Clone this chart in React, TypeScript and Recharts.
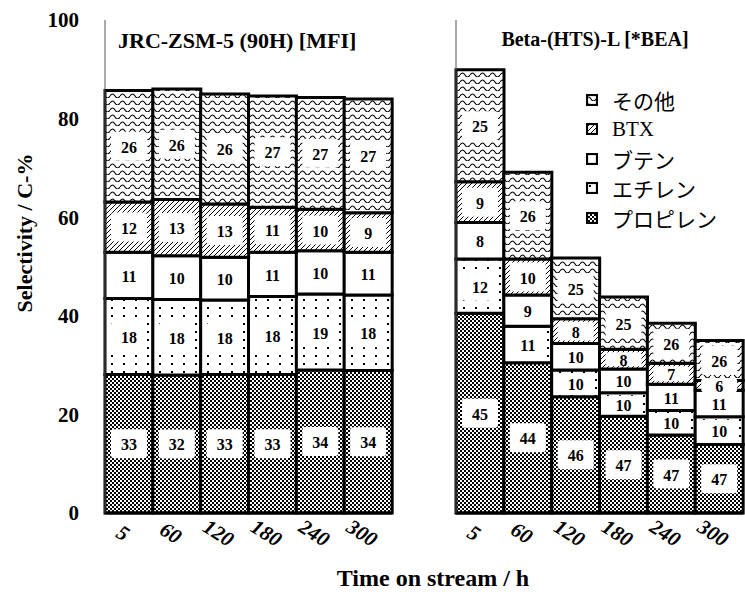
import React from 'react';
import { BarChart, Bar, XAxis, YAxis, LabelList, Legend } from 'recharts';

const times = ['5', '60', '120', '180', '240', '300'];
const seriesNames = ['その他', 'BTX', 'ブテン', 'エチレン', 'プロピレン'];

// JRC-ZSM-5 (90H) [MFI], C-%
const mfiPropylene = [28.1, 28.0, 28.1, 28.1, 29.0, 28.9];
const mfiEthylene = [15.4, 15.3, 15.1, 15.8, 15.4, 15.3];
const mfiButene = [9.4, 8.9, 8.7, 9.0, 8.8, 8.7];
const mfiBtx = [10.2, 11.4, 10.8, 9.1, 8.4, 8.0];
const mfiOther = [22.6, 22.4, 22.3, 22.6, 22.7, 23.1];
// printed share labels
const mfiPropyleneLbl = [33, 32, 33, 33, 34, 34];
const mfiEthyleneLbl = [18, 18, 18, 18, 19, 18];
const mfiButeneLbl = [11, 10, 10, 11, 10, 11];
const mfiBtxLbl = [12, 13, 13, 11, 10, 9];
const mfiOtherLbl = [26, 26, 26, 27, 27, 27];

// Beta-(HTS)-L [*BEA], C-%
const beaPropylene = [40.5, 30.5, 23.6, 19.6, 15.8, 13.9];
const beaEthylene = [11.0, 7.4, 5.4, 4.8, 5.0, 5.6];
const beaButene = [7.4, 6.3, 5.4, 4.8, 5.3, 5.4];
const beaBtx = [8.3, 7.3, 5.0, 4.0, 4.3, 2.0];
const beaOther = [22.7, 17.6, 12.3, 10.6, 8.1, 8.1];
const beaPropyleneLbl = [45, 44, 46, 47, 47, 47];
const beaEthyleneLbl = [12, 11, 10, 10, 10, 10];
const beaButeneLbl = [8, 9, 10, 10, 11, 11];
const beaBtxLbl = [9, 10, 8, 8, 7, 6];
const beaOtherLbl = [25, 26, 25, 25, 26, 26];

const yTicks = [0, 20, 40, 60, 80, 100];

const SERIF = '"Liberation Serif", "Times New Roman", serif';
const JP = '"Liberation Serif", "Noto Sans CJK JP", serif';

const buildRows = (p: number[], e: number[], b: number[], x: number[], o: number[],
  pl: number[], el: number[], bl: number[], xl: number[], ol: number[]) =>
  times.map((t, i) => ({
    t,
    propylene: p[i], ethylene: e[i], butene: b[i], btx: x[i], other: o[i],
    propyleneLbl: pl[i], ethyleneLbl: el[i], buteneLbl: bl[i], btxLbl: xl[i], otherLbl: ol[i],
  }));

const mfiRows = buildRows(mfiPropylene, mfiEthylene, mfiButene, mfiBtx, mfiOther,
  mfiPropyleneLbl, mfiEthyleneLbl, mfiButeneLbl, mfiBtxLbl, mfiOtherLbl);
const beaRows = buildRows(beaPropylene, beaEthylene, beaButene, beaBtx, beaOther,
  beaPropyleneLbl, beaEthyleneLbl, beaButeneLbl, beaBtxLbl, beaOtherLbl);

const Patterns = ({ id }: { id: string }) => (
  <defs>
    <pattern id={`${id}-check`} width="4" height="4" patternUnits="userSpaceOnUse">
      <rect width="4" height="4" fill="#000" />
      <rect width="2" height="2" fill="#fff" />
      <rect x="2" y="2" width="2" height="2" fill="#fff" />
    </pattern>
    <pattern id={`${id}-dots`} width="12" height="8" patternUnits="userSpaceOnUse">
      <rect width="12" height="8" fill="#fff" />
      <rect x="3" y="3" width="2" height="2" fill="#000" />
    </pattern>
    <pattern id={`${id}-hatch`} width="5" height="5" patternUnits="userSpaceOnUse">
      <rect width="5" height="5" fill="#fff" />
      <path d="M-1,6 L6,-1" stroke="#000" strokeWidth="1" />
    </pattern>
    <pattern id={`${id}-wave`} width="10" height="7" patternUnits="userSpaceOnUse">
      <rect width="10" height="7" fill="#fff" />
      <path d="M0,5 Q2.5,1 5,5 T10,5" stroke="#000" strokeWidth="1.1" fill="none" />
    </pattern>
  </defs>
);

const BoxLabel = (props: any) => {
  const vb = props.viewBox || props;
  const { x, y, width, height } = vb;
  const value = props.value;
  if (value == null || !width) return null;
  const cx = x + width / 2;
  const cy = y + height / 2;
  const w = Math.min(width - 10, 36);
  const h = Math.max(Math.min(height - 6, 29), 14);
  return (
    <g>
      <rect x={cx - w / 2} y={cy - h / 2} width={w} height={h} rx={3} fill="#fff" />
      <text x={cx} y={cy + 1} textAnchor="middle" dominantBaseline="central"
        fontFamily={SERIF} fontWeight="bold" fontSize={16} fill="#000">{value}</text>
    </g>
  );
};

const TimeTick = (props: any) => {
  const { x, y, payload } = props;
  return (
    <g transform={`translate(${x - 6},${y + 12}) rotate(32)`}>
      <text textAnchor="middle" dominantBaseline="central" fontFamily={SERIF}
        fontStyle="italic" fontWeight="bold" fontSize={21} fill="#000">{payload.value}</text>
    </g>
  );
};

const YTitle = () => (
  <text transform="translate(24,233) rotate(-90)" textAnchor="middle" dominantBaseline="central"
    fontFamily={SERIF} fontWeight="bold" fontSize={22} fill="#000">Selectivity / C-%</text>
);

const LegendBox = ({ id }: { id: string }) => {
  const fills = [`${id}-wave`, `${id}-hatch`, null, `${id}-dots`, `${id}-check`];
  return (
    <div style={{ fontFamily: JP, fontSize: 21, color: '#000' }}>
      {seriesNames.map((name, i) => (
        <div key={name} style={{ display: 'flex', alignItems: 'center', height: 29.5 }}>
          <svg width={12} height={12} style={{ marginRight: 14 }}>
            <rect x={1} y={1} width={10} height={10} fill={fills[i] ? `url(#${fills[i]})` : '#fff'}
              stroke="#000" strokeWidth={2.2} />
          </svg>
          <span>{name}</span>
        </div>
      ))}
    </div>
  );
};

type PanelProps = {
  id: string;
  rows: any[];
  left: number;
  width: number;
  yWidth: number;
  showY: boolean;
  title: string;
  titleX: number;
  titleSize: number;
  titleAnchor: 'start' | 'middle';
  legend?: boolean;
};

const Panel = ({ id, rows, left, width, yWidth, showY, title, titleX, titleSize, titleAnchor, legend }: PanelProps) => (
  <div style={{ position: 'absolute', left, top: 0 }}>
    <BarChart width={width} height={596} data={rows} barCategoryGap={0} barGap={0}
      margin={{ top: 20, right: 2, bottom: 0, left: 0 }}>
      <Patterns id={id} />
      <XAxis dataKey="t" height={83} axisLine={{ stroke: '#000', strokeWidth: 3 }}
        tickLine={false} tick={<TimeTick />} interval={0} />
      <XAxis xAxisId="top" dataKey="t" orientation="top" height={0} tick={false}
        tickLine={false} axisLine={{ stroke: '#555', strokeWidth: 1 }} />
      <YAxis domain={[0, 100]} ticks={yTicks} width={yWidth} tickLine={false} tickSize={0}
        tickMargin={26} axisLine={{ stroke: '#555', strokeWidth: 1 }}
        tick={showY ? { fontFamily: SERIF, fontWeight: 'bold', fontSize: 21, fill: '#000' } : false}
        label={showY ? <YTitle /> : undefined} />
      <YAxis yAxisId="r" orientation="right" domain={[0, 100]} ticks={yTicks} width={0}
        tick={false} tickLine={false} axisLine={{ stroke: '#555', strokeWidth: 1 }} />
      {legend && (
        <Legend layout="vertical" align="center" verticalAlign="middle"
          wrapperStyle={{ left: 186, top: 85, width: 'auto', height: 'auto' }}
          content={() => <LegendBox id={id} />} />
      )}
      <Bar dataKey="propylene" stackId="s" fill={`url(#${id}-check)`} stroke="#000" strokeWidth={3}
        isAnimationActive={false}>
        <LabelList dataKey="propyleneLbl" content={<BoxLabel />} />
      </Bar>
      <Bar dataKey="ethylene" stackId="s" fill={`url(#${id}-dots)`} stroke="#000" strokeWidth={3}
        isAnimationActive={false}>
        <LabelList dataKey="ethyleneLbl" content={<BoxLabel />} />
      </Bar>
      <Bar dataKey="butene" stackId="s" fill="#fff" stroke="#000" strokeWidth={3}
        isAnimationActive={false}>
        <LabelList dataKey="buteneLbl" content={<BoxLabel />} />
      </Bar>
      <Bar dataKey="btx" stackId="s" fill={`url(#${id}-hatch)`} stroke="#000" strokeWidth={3}
        isAnimationActive={false}>
        <LabelList dataKey="btxLbl" content={<BoxLabel />} />
      </Bar>
      <Bar dataKey="other" stackId="s" fill={`url(#${id}-wave)`} stroke="#000" strokeWidth={3}
        isAnimationActive={false}>
        <LabelList dataKey="otherLbl" content={<BoxLabel />} />
      </Bar>
    </BarChart>
    <div style={{
      position: 'absolute', left: titleAnchor === 'start' ? titleX : titleX - 150,
      width: titleAnchor === 'start' ? 'auto' : 300, textAlign: titleAnchor === 'start' ? 'left' : 'center',
      top: 28, fontFamily: SERIF, fontWeight: 'bold', fontSize: titleSize, color: '#000', whiteSpace: 'nowrap',
    }}>{title}</div>
  </div>
);

export default function App() {
  return (
    <div style={{ position: 'absolute', left: 0, top: 0, width: 745, height: 596, background: '#fff', overflow: 'hidden' }}>
      <Panel id="mfi" rows={mfiRows} left={0} width={394} yWidth={105} showY
        title="JRC-ZSM-5 (90H) [MFI]" titleX={118} titleSize={22} titleAnchor="start" />
      <Panel id="bea" rows={beaRows} left={400} width={345} yWidth={56} showY={false}
        title="Beta-(HTS)-L [*BEA]" titleX={195} titleSize={20} titleAnchor="middle" legend />
      <div style={{
        position: 'absolute', left: 0, width: 866, top: 565, textAlign: 'center',
        fontFamily: SERIF, fontWeight: 'bold', fontSize: 24, color: '#000',
      }}>Time on stream / h</div>
    </div>
  );
}
